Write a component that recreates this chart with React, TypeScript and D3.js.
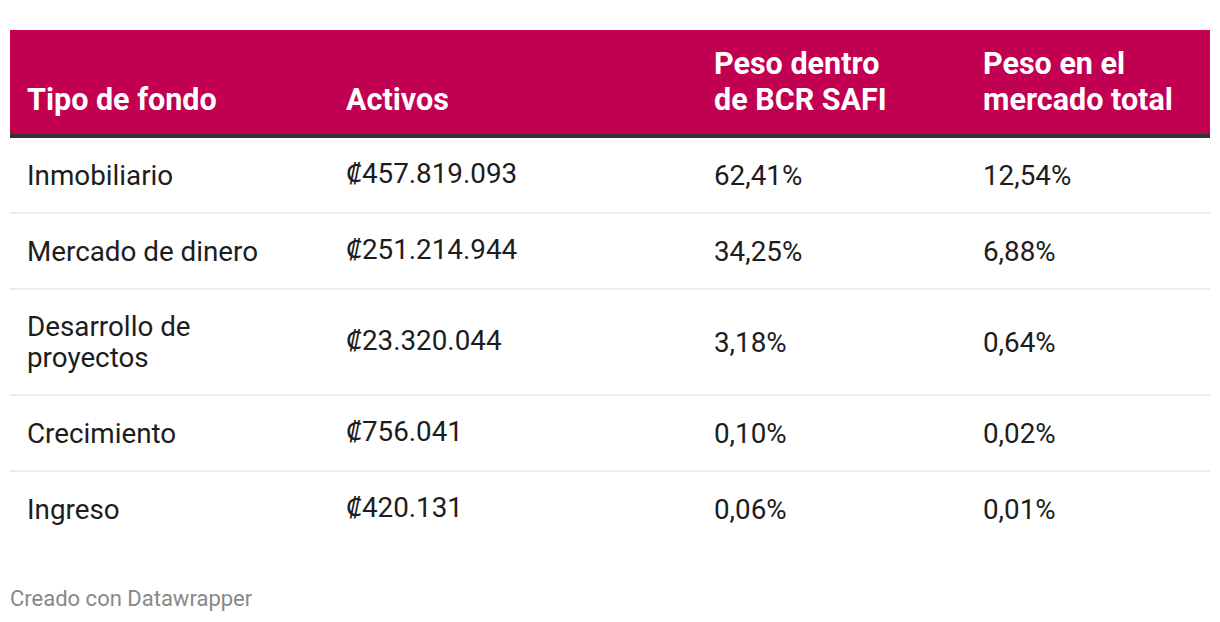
import * as d3 from 'd3';
import { useEffect, useRef } from 'react';

const headers = ['Tipo de fondo', 'Activos', 'Peso dentro de BCR SAFI', 'Peso en el mercado total'];
const categories = ['Inmobiliario', 'Mercado de dinero', 'Desarrollo de proyectos', 'Crecimiento', 'Ingreso'];
const activos = [457819093, 251214944, 23320044, 756041, 420131];
const pesoBCR = [62.41, 34.25, 3.18, 0.10, 0.06];
const pesoMercado = [12.54, 6.88, 0.64, 0.02, 0.01];

const W = 1220;
const H = 622;
const tableLeft = 10;
const tableRight = 1210;
const colX = [27, 346, 714, 983];
const colWrap = [270, 330, 195, 200];
const headTop = 30;
const headBottom = 134;
const borderW = 4;
const lineH = 31;
const headLineH = 36;
const rowH = 74;
const extraLineH = 30;
const sepW = 2;

const magenta = '#c20051';
const font = 'Roboto, "Noto Sans", sans-serif';

const esLocale = d3.formatLocale({ decimal: ',', thousands: '.', grouping: [3], currency: ['₡', ''] });
const fmtMoney = esLocale.format('$,.0f');
const fmtPct = (v) => esLocale.format('.2f')(v) + '%';

function wrapLines(sel, text, width) {
	const words = text.split(' ');
	const lines = [];
	let cur = '';
	const probe = sel.append('text').attr('visibility', 'hidden');
	words.forEach(w => {
		const test = cur ? cur + ' ' + w : w;
		probe.text(test);
		if (cur && probe.node().getComputedTextLength() > width) {
			lines.push(cur);
			cur = w;
		} else cur = test;
	});
	lines.push(cur);
	probe.remove();
	return lines;
}

export default function App() {
	const ref = useRef(null);

	useEffect(() => {
		const svg = d3.select(ref.current);
		svg.selectAll('*').remove();

		// header
		svg.append('rect')
			.attr('x', tableLeft).attr('y', headTop)
			.attr('width', tableRight - tableLeft).attr('height', headBottom - headTop)
			.attr('fill', magenta);
		svg.append('rect')
			.attr('x', tableLeft).attr('y', headBottom)
			.attr('width', tableRight - tableLeft).attr('height', borderW)
			.attr('fill', '#333333');

		const head = svg.append('g')
			.attr('font-family', font).attr('font-weight', 700)
			.attr('font-size', 30.5).attr('fill', '#ffffff');
		headers.forEach((h, i) => {
			const lines = wrapLines(head, h, colWrap[i]);
			const t = head.append('text').attr('x', colX[i]);
			lines.forEach((l, j) => {
				t.append('tspan')
					.attr('x', colX[i])
					.attr('y', 110 - (lines.length - 1 - j) * headLineH)
					.text(l);
			});
		});

		// body
		const body = svg.append('g')
			.attr('font-family', font).attr('font-size', 27.8).attr('fill', '#1d1d1d');

		const rows = categories.map((c, i) => ({
			cells: [c, fmtMoney(activos[i]), fmtPct(pesoBCR[i]), fmtPct(pesoMercado[i])]
		}));

		let y = headBottom + borderW;
		rows.forEach((r, i) => {
			const cellLines = r.cells.map((c, k) => wrapLines(body, c, colWrap[k]));
			const n = d3.max(cellLines, l => l.length);
			const h = rowH + (n - 1) * extraLineH;
			const mid = y + h / 2;
			cellLines.forEach((lines, k) => {
				const t = body.append('text');
				// the colón column sits a touch higher, like the original
				const dy = k === 1 ? -1.5 : 0;
				lines.forEach((l, j) => {
					t.append('tspan')
						.attr('x', colX[k])
						.attr('y', mid + 9.5 + dy + (j - (lines.length - 1) / 2) * lineH)
						.text(l);
				});
			});
			y += h;
			if (i < rows.length - 1) {
				svg.append('rect')
					.attr('x', tableLeft).attr('y', y)
					.attr('width', tableRight - tableLeft).attr('height', sepW)
					.attr('fill', '#ececec');
				y += sepW;
			}
		});

		svg.append('text')
			.attr('x', 10).attr('y', 606)
			.attr('font-family', font).attr('font-size', 22)
			.attr('fill', '#888888')
			.text('Creado con Datawrapper');
	}, []);

	return (
		<svg
			ref={ref}
			width={W}
			height={H}
			style={{ position: 'absolute', left: 0, top: 0, background: '#fff' }}
		/>
	);
}
